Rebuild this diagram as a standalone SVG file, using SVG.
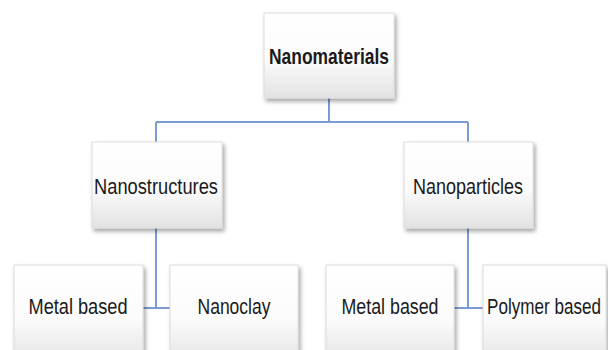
<svg xmlns="http://www.w3.org/2000/svg" width="608" height="350" viewBox="0 0 608 350">
<defs>
<linearGradient id="g" x1="0" y1="0" x2="0" y2="1">
<stop offset="0" stop-color="#ffffff"/>
<stop offset="0.55" stop-color="#fbfbfb"/>
<stop offset="1" stop-color="#e2e2e2"/>
</linearGradient>
<filter id="sh" x="-10%" y="-10%" width="125%" height="130%">
<feDropShadow dx="2" dy="3" stdDeviation="2" flood-color="#000" flood-opacity="0.35"/>
</filter>
</defs>
<style>
.box{fill:url(#g);stroke:#dcdcdc;stroke-width:1;filter:url(#sh)}
.t{font-family:"Liberation Sans",Arial,sans-serif;font-size:22px;fill:#1a1a1a;text-anchor:middle}
.b{font-weight:bold}
.c{fill:none;stroke:#7a9bd4;stroke-width:2}
</style>
<rect width="608" height="350" fill="#ffffff"/>
<g id="connectors">
<path class="c" d="M329,98 V122 M156,122 H468 M156,122 V142 M468,122 V142"/>
<path class="c" d="M156,228 V308 M143,308 H170"/>
<path class="c" d="M468,228 V308 M454,308 H483"/>
</g>
<g id="nanomaterials">
<rect class="box" x="264" y="13" width="130" height="85"/>
<text class="t b" x="329" y="64" textLength="120" lengthAdjust="spacingAndGlyphs">Nanomaterials</text>
</g>
<g id="nanostructures">
<rect class="box" x="92" y="142" width="130" height="86"/>
<text class="t" x="156" y="194" textLength="124" lengthAdjust="spacingAndGlyphs">Nanostructures</text>
</g>
<g id="nanoparticles">
<rect class="box" x="404" y="142" width="129" height="86"/>
<text class="t" x="468" y="194" textLength="110" lengthAdjust="spacingAndGlyphs">Nanoparticles</text>
</g>
<g id="metal-based-1">
<rect class="box" x="14" y="265" width="129" height="100"/>
<text class="t" x="78" y="314" textLength="99" lengthAdjust="spacingAndGlyphs">Metal based</text>
</g>
<g id="nanoclay">
<rect class="box" x="170" y="265" width="128" height="100"/>
<text class="t" x="234" y="314" textLength="73" lengthAdjust="spacingAndGlyphs">Nanoclay</text>
</g>
<g id="metal-based-2">
<rect class="box" x="326" y="265" width="128" height="100"/>
<text class="t" x="390" y="314" textLength="97" lengthAdjust="spacingAndGlyphs">Metal based</text>
</g>
<g id="polymer-based">
<rect class="box" x="483" y="265" width="123" height="100"/>
<text class="t" x="544" y="314" textLength="114" lengthAdjust="spacingAndGlyphs">Polymer based</text>
</g>
</svg>
